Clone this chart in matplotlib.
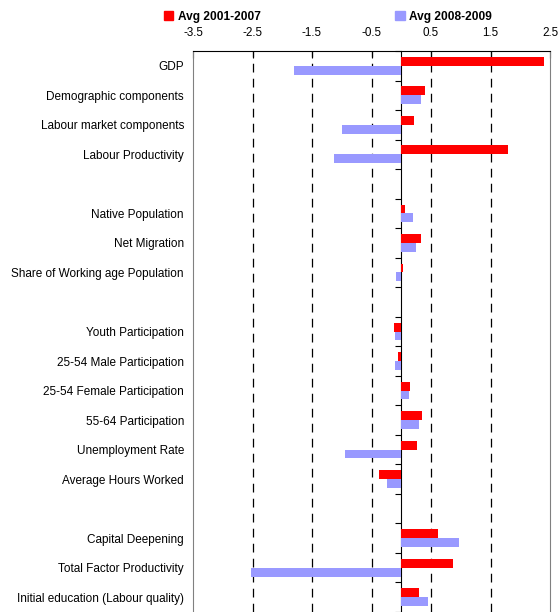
import numpy as np
import matplotlib
matplotlib.use("Agg")
import matplotlib.pyplot as plt
from matplotlib.patches import Patch

plt.rcParams['font.family'] = ['Liberation Sans', 'DejaVu Sans']

# categories top to bottom; empty strings are spacer rows
categories = ["GDP", "Demographic components", "Labour market components",
              "Labour Productivity", "",
              "Native Population", "Net Migration",
              "Share of Working age Population", "",
              "Youth Participation", "25-54 Male Participation",
              "25-54 Female Participation", "55-64 Participation",
              "Unemployment Rate", "Average Hours Worked", "",
              "Capital Deepening", "Total Factor Productivity",
              "Initial education (Labour quality)"]

avg_2001_2007 = [2.40, 0.40, 0.21, 1.80, np.nan,
                 0.06, 0.33, 0.03, np.nan,
                 -0.12, -0.05, 0.15, 0.35, 0.27, -0.37, np.nan,
                 0.62, 0.87, 0.30]
avg_2008_2009 = [-1.80, 0.33, -0.99, -1.13, np.nan,
                 0.20, 0.24, -0.08, np.nan,
                 -0.10, -0.10, 0.13, 0.30, -0.94, -0.24, np.nan,
                 0.97, -2.52, 0.45]

x_ticks = [-3.5, -2.5, -1.5, -0.5, 0.5, 1.5, 2.5]
series_names = ["Avg 2001-2007", "Avg 2008-2009"]
red = "#FF0000"
blue = "#9999FF"

fig = plt.figure(figsize=(5.6, 6.12), dpi=100)
ax = fig.add_axes([193 / 560, 0.0, 357 / 560, 1 - 51 / 612])

y = np.arange(len(categories))
bh = 0.3
ax.barh(y - bh / 2, avg_2001_2007, height=bh, color=red, zorder=3)
ax.barh(y + bh / 2, avg_2008_2009, height=bh, color=blue, zorder=3)

ax.set_xlim(-3.5, 2.5)
ax.set_ylim(len(categories) - 0.5, -0.5)

# x axis on top
ax.xaxis.tick_top()
ax.set_xticks(x_ticks)
ax.set_xticklabels([f"{v:g}" for v in x_ticks], fontsize=8.4)
ax.tick_params(axis='x', direction='in', length=5, pad=9, color='black')
for v in x_ticks[1:-1]:
    ax.axvline(v, color='black', lw=0.9, ls=(0, (7, 5)), zorder=1)

# category labels at the left border
ax.set_yticks(y)
ax.set_yticklabels(categories, fontsize=8.5)
ax.tick_params(axis='y', length=0, pad=6.5)

ax.spines['bottom'].set_visible(False)
ax.spines['left'].set_color('#808080')
ax.spines['right'].set_color('#808080')
ax.spines['top'].set_color('black')

# vertical axis crossing at zero with category boundary ticks
zero_frac = (0 - (-3.5)) / 6.0
sec = ax.secondary_yaxis(zero_frac)
sec.set_yticks(np.arange(-0.5, len(categories), 1.0))
sec.set_yticklabels([])
sec.tick_params(axis='y', length=4, width=0.8, color='black', direction='in')
sec.spines['left'].set_color('black')
sec.spines['left'].set_linewidth(1.0)

handles = [Patch(color=red), Patch(color=blue)]
fig.legend(handles, series_names, loc='upper left', ncol=2,
           bbox_to_anchor=(159 / 560, 1 - 6 / 612), frameon=False,
           prop={'weight': 'bold', 'size': 8.6}, handlelength=0.8,
           handleheight=0.8, handletextpad=0.35, columnspacing=11.3,
           borderaxespad=0)

fig.savefig("out.png", dpi=100)
